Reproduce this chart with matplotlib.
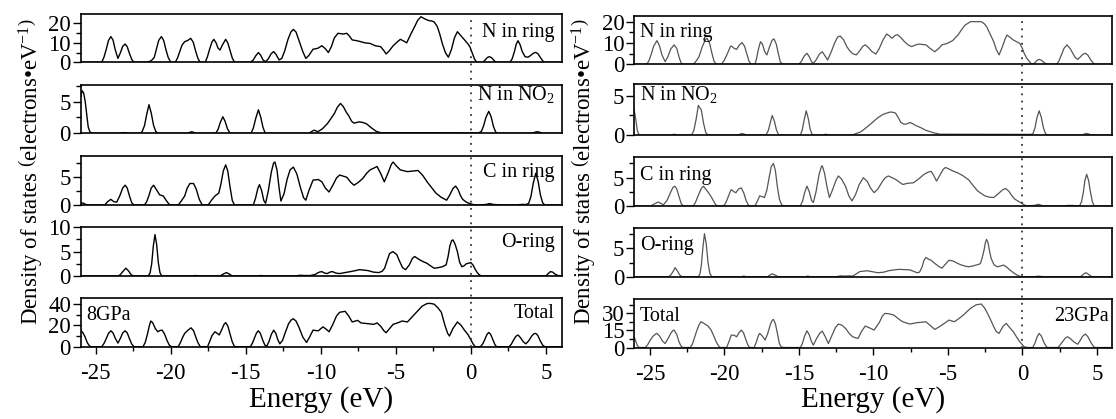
import matplotlib
matplotlib.use("Agg")
import matplotlib.pyplot as plt
from matplotlib.lines import Line2D

plt.rcParams['font.family'] = ['Liberation Serif', 'DejaVu Serif']
plt.rcParams['mathtext.fontset'] = 'custom'
plt.rcParams['mathtext.rm'] = 'Liberation Serif'
plt.rcParams['mathtext.it'] = 'Liberation Serif:italic'
plt.rcParams['axes.unicode_minus'] = False

# ---------------- data: (energy eV, DOS electrons/eV) ----------------
# 8 GPa
n_ring_8 = [(-26.0, 0), (-24.6, 0), (-24.45, 2.6), (-24.3, 6.6), (-24.15, 11.2), (-23.99, 13.2), (-23.85, 11.5),
            (-23.7, 6.5), (-23.52, 2.0), (-23.35, 5.0), (-23.2, 8.2), (-23.04, 9.4), (-22.9, 8.0), (-22.75, 4.5),
            (-22.6, 1.5), (-22.45, 0), (-21.6, 0), (-21.3, 0.8), (-21.1, 2.5), (-20.95, 6.8), (-20.8, 11.3),
            (-20.62, 13.2), (-20.47, 11.2), (-20.32, 6.5), (-20.17, 2.5), (-20.0, 0), (-19.7, 0), (-19.55, 2.2),
            (-19.4, 5.5), (-19.25, 8.8), (-19.07, 10.6), (-18.87, 11.2), (-18.67, 12.3), (-18.5, 10.3), (-18.35, 6.0),
            (-18.2, 2.2), (-18.05, 0), (-17.7, 0), (-17.55, 3.0), (-17.4, 7.0), (-17.25, 10.5), (-17.13, 11.8),
            (-16.98, 10), (-16.85, 7.3), (-16.72, 6.3), (-16.55, 9.0), (-16.34, 11.8), (-16.2, 10.0), (-16.05, 6.0),
            (-15.9, 2.2), (-15.75, 0), (-14.7, 0), (-14.5, 1.2), (-14.35, 3.2), (-14.16, 5.0), (-14.0, 3.5),
            (-13.85, 1.2), (-13.68, 0.3), (-13.5, 1.8), (-13.3, 4.5), (-13.14, 5.5), (-12.98, 4.0), (-12.78, 1.2),
            (-12.6, 2.0), (-12.4, 6.0), (-12.2, 11.5), (-12.0, 15.5), (-11.83, 16.9), (-11.65, 15.5), (-11.45, 11),
            (-11.2, 5.5), (-11.0, 2.0), (-10.8, 3.5), (-10.52, 6.7), (-10.2, 7.2), (-9.93, 8.5), (-9.7, 7.0),
            (-9.5, 5.0), (-9.3, 8.0), (-9.1, 12.5), (-8.86, 14.9), (-8.5, 14.5), (-8.27, 14.9), (-8.1, 13.5),
            (-7.91, 11.5), (-7.55, 11.0), (-7.3, 10.5), (-7.08, 10.0), (-6.72, 9.7), (-6.37, 8.5), (-6.01, 8.0),
            (-5.8, 6.0), (-5.65, 4.3), (-5.45, 5.8), (-5.18, 8.5), (-4.9, 10.5), (-4.7, 11.8), (-4.5, 11.0),
            (-4.28, 10.0), (-4.0, 14.5), (-3.75, 18.3), (-3.55, 21.5), (-3.33, 23.4), (-3.05, 22.2), (-2.8, 21.4),
            (-2.6, 21.2), (-2.45, 20.7), (-2.25, 18.5), (-2.09, 14.9), (-1.9, 9.5), (-1.7, 5.0), (-1.5, 2.6),
            (-1.3, 6.5), (-1.1, 12.5), (-0.9, 15.7), (-0.65, 13.5), (-0.43, 11.5), (-0.2, 9.5), (-0.07, 8.0),
            (0.1, 4.5), (0.25, 1.5), (0.4, 0), (0.8, 0), (0.95, 1.2), (1.1, 2.5), (1.24, 2.9), (1.4, 2.2),
            (1.55, 0.8), (1.71, 0), (2.6, 0), (2.75, 1.8), (2.9, 5.5), (3.02, 9.3), (3.14, 11.1), (3.28, 9.0),
            (3.42, 5.5), (3.61, 2.9), (3.8, 2.6), (4.0, 3.6), (4.15, 4.6), (4.32, 5.1), (4.48, 4.3), (4.65, 2.2),
            (4.8, 0.6), (4.92, 0), (6.1, 0)]

n_no2_8 = [(-26.0, 5.8), (-25.9, 6.7), (-25.8, 6.3), (-25.7, 5.0), (-25.6, 3.0), (-25.5, 1.0), (-25.38, 0.2),
           (-25.25, 0), (-23.4, 0), (-23.1, 0.1), (-22.8, 0), (-22.0, 0), (-21.9, 0.3), (-21.75, 1.2), (-21.6, 3.0),
           (-21.45, 4.5), (-21.3, 3.2), (-21.15, 1.3), (-21.0, 0.3), (-20.85, 0), (-18.9, 0), (-18.6, 0.25),
           (-18.3, 0), (-17.0, 0), (-16.85, 0.6), (-16.7, 1.7), (-16.53, 2.6), (-16.38, 1.9), (-16.22, 0.7),
           (-16.05, 0), (-14.65, 0), (-14.5, 0.8), (-14.33, 2.4), (-14.16, 3.7), (-14.0, 2.5), (-13.85, 0.9),
           (-13.7, 0), (-10.8, 0), (-10.45, 0.5), (-10.2, 0.25), (-9.9, 0.7), (-9.57, 1.5), (-9.3, 2.4),
           (-9.1, 3.1), (-8.9, 4.1), (-8.69, 4.7), (-8.5, 4.2), (-8.3, 3.3), (-8.15, 2.8), (-7.95, 1.9),
           (-7.79, 1.6), (-7.43, 1.8), (-7.2, 1.7), (-6.96, 1.5), (-6.6, 0.8), (-6.3, 0.3), (-6.0, 0.08),
           (0.5, 0.05), (0.7, 0.3), (0.85, 1.2), (1.0, 2.5), (1.19, 3.45), (1.35, 2.6), (1.5, 1.1), (1.65, 0.2),
           (1.8, 0), (4.1, 0), (4.3, 0.2), (4.44, 0.25), (4.6, 0.15), (4.8, 0), (6.1, 0)]

c_ring_8 = [(-26.0, 0.4), (-25.8, 0.3), (-25.6, 0), (-24.4, 0), (-24.2, 0.6), (-23.99, 1.0), (-23.8, 0.6),
            (-23.6, 0.5), (-23.4, 1.6), (-23.2, 3.0), (-23.04, 3.5), (-22.9, 3.0), (-22.75, 1.6), (-22.6, 0.4),
            (-22.45, 0), (-21.75, 0), (-21.6, 0.6), (-21.45, 1.7), (-21.3, 3.0), (-21.14, 3.5), (-20.95, 2.7),
            (-20.74, 1.8), (-20.5, 1.6), (-20.3, 0.8), (-20.1, 0.1), (-20.0, 0), (-19.5, 0), (-19.3, 0.7),
            (-19.07, 1.6), (-18.9, 3.0), (-18.72, 3.8), (-18.48, 3.8), (-18.3, 2.8), (-18.1, 1.0), (-17.9, 0),
            (-17.5, 0), (-17.3, 0.8), (-17.05, 1.6), (-16.8, 2.1), (-16.65, 3.8), (-16.5, 6.0), (-16.34, 7.1),
            (-16.2, 6.0), (-16.05, 3.2), (-15.9, 0.8), (-15.75, 0), (-14.5, 0), (-14.35, 1.2), (-14.2, 2.9),
            (-14.09, 3.6), (-13.95, 2.6), (-13.8, 0.8), (-13.68, 0.3), (-13.5, 2.5), (-13.3, 5.8), (-13.15, 7.4),
            (-13.06, 7.6), (-12.92, 6.2), (-12.78, 3.0), (-12.66, 0.7), (-12.45, 2.0), (-12.25, 4.5), (-12.05, 6.2),
            (-11.83, 6.7), (-11.6, 5.5), (-11.35, 3.0), (-11.15, 1.3), (-11.0, 0.85), (-10.8, 2.5), (-10.52, 4.4),
            (-10.17, 4.5), (-9.93, 4.1), (-9.7, 3.0), (-9.45, 2.3), (-9.2, 3.5), (-8.95, 4.8), (-8.74, 5.3),
            (-8.5, 5.1), (-8.27, 4.9), (-8.0, 4.0), (-7.79, 3.5), (-7.5, 4.0), (-7.2, 4.7), (-6.95, 5.6),
            (-6.72, 6.2), (-6.48, 6.5), (-6.25, 6.8), (-6.0, 5.5), (-5.77, 4.1), (-5.5, 5.8), (-5.3, 7.2),
            (-5.18, 7.6), (-5.0, 7.0), (-4.7, 6.2), (-4.23, 5.9), (-3.9, 6.0), (-3.52, 6.1), (-3.2, 5.2),
            (-2.92, 4.1), (-2.6, 3.0), (-2.33, 2.1), (-2.0, 1.4), (-1.62, 0.85), (-1.4, 1.8), (-1.2, 2.9),
            (-1.02, 3.35), (-0.85, 2.7), (-0.7, 1.7), (-0.55, 1.0), (-0.3, 0.5), (-0.07, 0.25), (0.2, 0.05),
            (0.52, 0), (1.0, 0.1), (1.24, 0.25), (1.5, 0.1), (1.95, 0), (3.0, 0), (3.37, 0.1), (3.7, 0.1),
            (3.85, 0.3), (4.0, 1.5), (4.15, 3.8), (4.32, 5.6), (4.48, 4.2), (4.63, 1.8), (4.78, 0.4), (4.92, 0),
            (6.1, 0)]

o_ring_8 = [(-26.0, 0), (-23.5, 0), (-23.35, 0.3), (-23.2, 0.9), (-22.99, 1.6), (-22.8, 1.0), (-22.65, 0.3),
            (-22.5, 0), (-21.5, 0), (-21.38, 0.6), (-21.27, 2.5), (-21.16, 6.2), (-21.05, 8.5), (-20.94, 6.5),
            (-20.83, 2.8), (-20.72, 0.7), (-20.6, 0), (-18.6, 0), (-18.36, 0.1), (-18.1, 0), (-16.7, 0),
            (-16.5, 0.4), (-16.29, 0.7), (-16.1, 0.4), (-15.9, 0), (-14.2, 0), (-14.0, 0.1), (-13.8, 0),
            (-11.7, 0), (-11.4, 0.15), (-11.1, 0.1), (-10.7, 0.1), (-10.4, 0.3), (-10.1, 0.8), (-9.93, 0.9),
            (-9.75, 0.6), (-9.57, 0.5), (-9.4, 0.8), (-9.22, 0.9), (-9.0, 0.6), (-8.74, 0.5), (-8.4, 0.7),
            (-8.03, 0.9), (-7.7, 1.1), (-7.43, 1.3), (-7.1, 1.2), (-6.84, 1.1), (-6.5, 0.8), (-6.13, 0.7),
            (-5.9, 1.0), (-5.75, 1.6), (-5.6, 3.0), (-5.42, 4.6), (-5.2, 5.0), (-4.94, 4.4), (-4.75, 3.0),
            (-4.55, 1.7), (-4.35, 1.3), (-4.1, 2.3), (-3.9, 3.6), (-3.75, 4.0), (-3.55, 3.6), (-3.4, 3.3),
            (-3.15, 2.9), (-2.92, 2.6), (-2.7, 2.1), (-2.45, 1.6), (-2.2, 1.7), (-1.9, 1.9), (-1.65, 2.3),
            (-1.52, 4.0), (-1.4, 6.2), (-1.28, 7.3), (-1.19, 7.4), (-1.05, 6.5), (-0.9, 5.0), (-0.75, 2.8),
            (-0.6, 1.9), (-0.45, 2.1), (-0.31, 2.5), (0.0, 2.75), (0.15, 2.2), (0.3, 1.3), (0.45, 0.6),
            (0.6, 0.15), (0.76, 0), (5.0, 0), (5.15, 0.5), (5.3, 0.9), (5.45, 0.8), (5.6, 0.4), (5.8, 0.1),
            (6.1, 0)]

total_8 = [(-26.0, 15.5), (-25.85, 13), (-25.72, 9.5), (-25.55, 3.5), (-25.4, 0.5), (-25.3, 0), (-24.6, 0),
           (-24.45, 3), (-24.3, 7.5), (-24.15, 12.5), (-23.99, 14.9), (-23.85, 13), (-23.7, 8), (-23.52, 3.4),
           (-23.35, 8), (-23.2, 13), (-23.04, 14.9), (-22.9, 13), (-22.75, 7.5), (-22.6, 2.5), (-22.45, 0),
           (-21.85, 0), (-21.7, 4), (-21.55, 12), (-21.42, 20), (-21.33, 24.1), (-21.2, 22.5), (-21.03, 17),
           (-20.86, 14), (-20.7, 15.3), (-20.57, 15.5), (-20.42, 12), (-20.25, 6), (-20.1, 1.5), (-19.95, 0),
           (-19.5, 0), (-19.35, 4), (-19.2, 9), (-19.07, 12.5), (-18.85, 15.5), (-18.65, 17.7), (-18.48, 15),
           (-18.33, 9), (-18.18, 3.5), (-18.03, 0), (-17.55, 0), (-17.4, 5), (-17.25, 10.5), (-17.05, 14),
           (-16.9, 12.5), (-16.77, 11), (-16.6, 16), (-16.45, 21), (-16.34, 22.6), (-16.2, 19.5), (-16.05, 12),
           (-15.9, 4.5), (-15.75, 0), (-14.7, 0), (-14.55, 3.5), (-14.4, 9), (-14.28, 13), (-14.16, 14.9),
           (-14.03, 12.5), (-13.88, 6.5), (-13.73, 1.5), (-13.6, 0.5), (-13.45, 5), (-13.3, 11.5), (-13.14, 15.5),
           (-13.0, 12.5), (-12.85, 6), (-12.73, 2.7), (-12.55, 6), (-12.35, 14), (-12.15, 21.5), (-11.98, 25),
           (-11.83, 26.2), (-11.65, 24), (-11.45, 18), (-11.2, 9), (-10.95, 4), (-10.75, 9), (-10.52, 15.5),
           (-10.17, 14.9), (-9.86, 18.6), (-9.65, 16.5), (-9.45, 14), (-9.2, 21), (-8.95, 29), (-8.74, 32.3),
           (-8.38, 33.2), (-8.15, 29), (-7.91, 23.2), (-7.55, 24.7), (-7.32, 22.3), (-6.84, 21.6), (-6.48, 21),
           (-6.25, 22.3), (-6.0, 19), (-5.8, 15), (-5.65, 13.1), (-5.45, 16.5), (-5.18, 21), (-4.85, 22.5),
           (-4.58, 24.1), (-4.23, 23.2), (-3.95, 27.5), (-3.63, 32.3), (-3.25, 38), (-2.92, 40.5), (-2.7, 40.6),
           (-2.45, 39.9), (-2.2, 36.5), (-1.97, 32.3), (-1.85, 26), (-1.73, 20), (-1.55, 12.5), (-1.43, 10),
           (-1.2, 17), (-0.9, 23.2), (-0.65, 20), (-0.43, 15.5), (-0.2, 11.5), (0.0, 6.4), (0.15, 2.5), (0.29, 0),
           (0.64, 0), (0.8, 3), (0.95, 7.5), (1.07, 11.5), (1.19, 13.4), (1.32, 11.5), (1.47, 6.5), (1.6, 2),
           (1.71, 0), (2.55, 0), (2.7, 2.5), (2.85, 6.5), (3.0, 9.8), (3.14, 11), (3.3, 8.5), (3.5, 4.5),
           (3.66, 2.7), (3.85, 5.5), (4.05, 10), (4.2, 12.2), (4.32, 12.5), (4.46, 10.5), (4.62, 5.5), (4.78, 1.5),
           (4.92, 0), (6.1, 0)]

# 23 GPa
n_ring_23 = [(-26.07, 0), (-25.2, 0), (-25.05, 2), (-24.9, 5), (-24.75, 8.5), (-24.53, 11.1), (-24.35, 8.5),
             (-24.2, 4.5), (-23.98, 1.25), (-23.8, 3.5), (-23.6, 7.2), (-23.38, 9.1), (-23.2, 7.5), (-23.05, 3.5),
             (-22.9, 0.5), (-22.8, 0), (-22.1, 0), (-21.9, 1.5), (-21.7, 3.6), (-21.5, 8), (-21.3, 11.3),
             (-21.17, 12.2), (-21.0, 10), (-20.85, 5.5), (-20.7, 1.5), (-20.55, 0), (-20.2, 0), (-20.0, 2),
             (-19.8, 5), (-19.6, 8.3), (-19.54, 8.6), (-19.35, 7.5), (-19.18, 7), (-19.0, 9), (-18.82, 10.2),
             (-18.65, 8.5), (-18.5, 5), (-18.35, 1.5), (-18.2, 0), (-17.95, 0), (-17.85, 2.5), (-17.72, 7),
             (-17.58, 10.6), (-17.45, 9.5), (-17.3, 6), (-17.15, 4.4), (-16.98, 8), (-16.8, 11.3), (-16.67, 11.9),
             (-16.52, 9.5), (-16.38, 5), (-16.25, 1.2), (-16.1, 0), (-15.0, 0), (-14.85, 1.2), (-14.65, 3.8),
             (-14.46, 5.2), (-14.3, 3.5), (-14.15, 1.2), (-14.03, 0.5), (-13.85, 2), (-13.62, 4.8), (-13.43, 5.9),
             (-13.25, 4), (-13.07, 2.0), (-12.85, 5.5), (-12.6, 10), (-12.4, 12.8), (-12.23, 13.3), (-12.0, 11.5),
             (-11.8, 8.5), (-11.63, 6.7), (-11.4, 5), (-11.15, 4.4), (-10.9, 6.5), (-10.7, 8.5), (-10.55, 9.1),
             (-10.35, 8), (-10.1, 6), (-9.83, 4.8), (-9.6, 7.5), (-9.35, 11.5), (-9.11, 14.2), (-8.95, 13.5),
             (-8.75, 12.2), (-8.55, 13.5), (-8.39, 13.9), (-8.15, 12.5), (-7.91, 10.6), (-7.65, 9), (-7.43, 8.3),
             (-7.2, 9), (-6.95, 9.5), (-6.7, 9.3), (-6.47, 9.1), (-6.2, 7.5), (-5.88, 5.9), (-5.6, 7.5),
             (-5.4, 9.1), (-5.04, 9.8), (-4.68, 11.1), (-4.32, 13.75), (-4.05, 16.5), (-3.84, 18.4), (-3.48, 20),
             (-3.1, 20), (-2.76, 20), (-2.55, 19), (-2.4, 17.7), (-2.15, 14), (-1.92, 10.6), (-1.75, 7),
             (-1.56, 4.4), (-1.35, 8), (-1.15, 12), (-1.03, 13.75), (-0.8, 12.5), (-0.6, 11.4), (-0.35, 10.5),
             (-0.17, 9.8), (0.0, 7.5), (0.12, 5.2), (0.3, 2.8), (0.48, 1.25), (0.6, 0.3), (0.72, 0), (0.85, 0.8),
             (1.0, 1.9), (1.13, 2.3), (1.3, 1.8), (1.5, 0.6), (1.68, 0), (2.3, 0), (2.45, 1.5), (2.6, 4),
             (2.8, 7.5), (3.0, 9.1), (3.2, 7.5), (3.4, 5), (3.55, 3.2), (3.72, 2.3), (3.9, 3.5), (4.05, 4.6),
             (4.24, 5.2), (4.4, 4.3), (4.6, 2.0), (4.8, 0.3), (4.9, 0), (6.0, 0)]

n_no2_23 = [(-26.07, 3.3), (-25.95, 2.0), (-25.85, 0.6), (-25.73, 0), (-23.6, 0), (-23.38, 0.1), (-23.1, 0),
            (-22.2, 0), (-22.05, 0.6), (-21.9, 2.0), (-21.75, 3.8), (-21.55, 3.2), (-21.4, 1.5), (-21.25, 0.3),
            (-21.1, 0), (-19.1, 0), (-18.82, 0.2), (-18.5, 0), (-17.2, 0), (-17.05, 0.6), (-16.92, 1.6),
            (-16.79, 2.5), (-16.65, 1.8), (-16.5, 0.6), (-16.35, 0), (-14.9, 0), (-14.78, 0.6), (-14.65, 1.9),
            (-14.51, 3.1), (-14.38, 2.2), (-14.25, 0.8), (-14.1, 0), (-13.4, 0), (-13.2, 0.1), (-13.0, 0),
            (-11.4, 0), (-11.15, 0.2), (-10.9, 0.35), (-10.67, 0.65), (-10.45, 1.0), (-10.19, 1.4), (-9.95, 1.8),
            (-9.71, 2.2), (-9.35, 2.65), (-8.87, 2.95), (-8.65, 2.9), (-8.51, 2.8), (-8.35, 2.3), (-8.15, 1.6),
            (-7.95, 1.4), (-7.79, 1.4), (-7.55, 1.6), (-7.35, 1.45), (-7.19, 1.25), (-6.83, 0.95), (-6.47, 0.6),
            (-5.99, 0.3), (-5.52, 0.1), (0.6, 0.08), (0.72, 0.2), (0.85, 0.9), (0.98, 2.2), (1.13, 3.1),
            (1.27, 2.3), (1.42, 0.9), (1.55, 0.2), (1.68, 0), (4.0, 0), (4.2, 0.15), (4.32, 0.2), (4.5, 0.1),
            (4.65, 0), (6.0, 0)]

c_ring_23 = [(-26.07, 0), (-24.95, 0), (-24.75, 0.3), (-24.46, 0.7), (-24.25, 0.45), (-24.1, 0.2), (-23.85, 1.0),
             (-23.6, 2.5), (-23.45, 3.3), (-23.33, 3.5), (-23.2, 3.0), (-23.05, 1.7), (-22.9, 0.4), (-22.75, 0),
             (-22.1, 0), (-21.95, 0.6), (-21.75, 1.9), (-21.55, 3.1), (-21.41, 3.5), (-21.2, 2.8), (-21.0, 2.1),
             (-20.86, 1.5), (-20.65, 0.5), (-20.5, 0), (-20.05, 0), (-19.9, 0.6), (-19.75, 1.6), (-19.6, 2.6),
             (-19.54, 2.9), (-19.35, 2.5), (-19.23, 2.35), (-19.05, 3.0), (-18.87, 3.2), (-18.7, 2.3),
             (-18.55, 1.0), (-18.4, 0.2), (-18.3, 0), (-17.95, 0), (-17.8, 0.8), (-17.63, 1.8), (-17.31, 1.5),
             (-17.15, 2.8), (-17.0, 5.0), (-16.85, 7.0), (-16.71, 7.5), (-16.58, 6.3), (-16.45, 3.5),
             (-16.31, 1.2), (-16.15, 0.2), (-16.05, 0), (-14.9, 0), (-14.75, 0.9), (-14.6, 2.5), (-14.46, 3.5),
             (-14.3, 2.5), (-14.15, 1.0), (-14.03, 0.6), (-13.85, 2.5), (-13.65, 5.5), (-13.5, 6.9), (-13.43, 7.1),
             (-13.28, 5.8), (-13.1, 3.2), (-12.95, 1.5), (-12.75, 2.8), (-12.5, 4.6), (-12.35, 5.3), (-12.15, 4.8),
             (-11.87, 3.5), (-11.65, 1.8), (-11.44, 0.9), (-11.2, 2.0), (-10.95, 3.8), (-10.67, 5.0), (-10.4, 4.3),
             (-10.2, 3.2), (-9.95, 2.35), (-9.7, 3.0), (-9.4, 4.3), (-9.2, 5.0), (-8.99, 5.3), (-8.75, 5.0),
             (-8.51, 4.7), (-8.03, 3.8), (-7.7, 4.0), (-7.31, 4.1), (-6.95, 4.8), (-6.59, 5.6), (-6.3, 6.0),
             (-6.12, 6.1), (-5.95, 5.4), (-5.76, 4.4), (-5.5, 5.6), (-5.3, 6.5), (-5.16, 6.8), (-4.9, 6.5),
             (-4.68, 6.2), (-4.3, 5.8), (-3.96, 5.3), (-3.6, 4.6), (-3.36, 3.8), (-3.0, 2.65), (-2.52, 1.8),
             (-2.2, 1.55), (-1.92, 1.5), (-1.6, 2.2), (-1.35, 2.8), (-1.13, 3.1), (-0.9, 2.6), (-0.7, 1.8),
             (-0.5, 1.2), (-0.25, 0.8), (0.0, 0.4), (0.2, 0.1), (0.36, 0), (0.8, 0.1), (1.08, 0.3), (1.3, 0.1),
             (1.5, 0), (2.8, 0), (3.0, 0.1), (3.4, 0.1), (3.84, 0), (3.98, 0.8), (4.1, 2.5), (4.2, 4.5),
             (4.32, 5.6), (4.45, 4.5), (4.57, 2.5), (4.7, 0.8), (4.82, 0), (6.0, 0)]

o_ring_23 = [(-26.07, 0), (-23.75, 0), (-23.6, 0.3), (-23.45, 0.9), (-23.31, 1.6), (-23.15, 1.0), (-23.0, 0.3),
             (-22.85, 0), (-21.75, 0), (-21.64, 0.5), (-21.55, 2.0), (-21.45, 5.0), (-21.34, 7.6), (-21.22, 5.8),
             (-21.1, 2.5), (-20.98, 0.6), (-20.85, 0), (-18.9, 0), (-18.7, 0.1), (-18.5, 0), (-17.1, 0),
             (-16.95, 0.3), (-16.79, 0.5), (-16.6, 0.3), (-16.4, 0), (-14.6, 0), (-14.4, 0.1), (-14.2, 0),
             (-12.5, 0), (-12.2, 0.15), (-11.9, 0.1), (-11.6, 0.15), (-11.39, 0.1), (-11.15, 0.5), (-10.91, 0.9),
             (-10.43, 1.05), (-10.1, 0.9), (-9.71, 0.7), (-9.3, 0.8), (-8.99, 1.05), (-8.6, 1.2), (-8.27, 1.3),
             (-7.9, 1.25), (-7.55, 1.2), (-7.3, 0.95), (-7.07, 0.7), (-6.9, 0.8), (-6.72, 1.8), (-6.6, 2.9),
             (-6.47, 3.4), (-6.3, 3.1), (-6.12, 2.9), (-5.88, 2.35), (-5.6, 1.8), (-5.4, 1.5), (-5.2, 2.1),
             (-5.0, 2.7), (-4.92, 2.9), (-4.7, 2.8), (-4.56, 2.65), (-4.3, 2.3), (-4.08, 2.05), (-3.8, 1.85),
             (-3.6, 1.75), (-3.3, 1.9), (-3.12, 2.05), (-2.9, 2.2), (-2.81, 2.35), (-2.7, 3.3), (-2.57, 4.7),
             (-2.48, 6.0), (-2.4, 6.6), (-2.3, 6.0), (-2.2, 4.5), (-2.09, 3.2), (-1.9, 2.1), (-1.68, 1.75),
             (-1.45, 1.9), (-1.27, 2.05), (-1.05, 1.7), (-0.84, 1.2), (-0.6, 0.7), (-0.36, 0.3), (-0.15, 0.05),
             (0.0, 0), (0.8, 0), (1.08, 0.1), (1.4, 0), (3.9, 0), (4.05, 0.3), (4.15, 0.55), (4.27, 0.7),
             (4.4, 0.5), (4.55, 0.2), (4.68, 0), (6.0, 0)]

total_23 = [(-26.07, 9.4), (-25.95, 5.5), (-25.85, 1.8), (-25.73, 0), (-25.3, 0), (-25.15, 2.5), (-25.0, 6),
            (-24.8, 9.8), (-24.6, 12), (-24.53, 12.4), (-24.35, 10), (-24.15, 5.5), (-23.98, 3.5), (-23.8, 7.5),
            (-23.6, 12.5), (-23.45, 15), (-23.38, 15.3), (-23.2, 11.5), (-23.05, 5), (-22.9, 1), (-22.8, 0),
            (-22.3, 0), (-22.15, 3), (-22.0, 9), (-21.85, 15), (-21.7, 20), (-21.58, 22.6), (-21.35, 21),
            (-21.1, 18.8), (-20.9, 15.5), (-20.74, 10.9), (-20.55, 5), (-20.4, 1.5), (-20.3, 0), (-19.85, 0),
            (-19.7, 5), (-19.54, 10.9), (-19.35, 10.8), (-19.18, 9.4), (-19.02, 13), (-18.87, 15.3), (-18.72, 13),
            (-18.55, 6.5), (-18.4, 1.5), (-18.3, 0), (-18.0, 0), (-17.85, 5), (-17.72, 10.5), (-17.63, 12.4),
            (-17.45, 10), (-17.27, 6.5), (-17.1, 12), (-16.92, 20), (-16.8, 23.7), (-16.71, 24.7), (-16.58, 21),
            (-16.45, 13), (-16.31, 3.5), (-16.2, 0.8), (-16.07, 0), (-14.9, 0), (-14.78, 3), (-14.62, 10),
            (-14.46, 14.7), (-14.3, 11), (-14.15, 5), (-14.03, 2.1), (-13.85, 7), (-13.6, 12.5), (-13.43, 14.4),
            (-13.25, 10), (-13.02, 3.5), (-12.8, 10), (-12.55, 17.5), (-12.35, 20.6), (-12.1, 19.5),
            (-11.87, 16.8), (-11.6, 12), (-11.39, 9.4), (-11.03, 7.9), (-10.8, 14), (-10.55, 18.8), (-10.3, 17.5),
            (-9.95, 15.3), (-9.6, 22), (-9.4, 27.5), (-9.23, 30), (-8.9, 29.5), (-8.63, 28.5), (-8.3, 25),
            (-8.03, 22.6), (-7.55, 20.6), (-7.07, 21.8), (-6.47, 22.6), (-6.15, 19), (-5.88, 15.9), (-5.6, 18),
            (-5.4, 19.7), (-4.92, 24.1), (-4.56, 22.6), (-4.2, 26), (-3.96, 28.5), (-3.48, 34.4), (-3.1, 37.5),
            (-2.76, 38.2), (-2.55, 35), (-2.4, 31.5), (-2.15, 25), (-1.92, 18.2), (-1.75, 14), (-1.56, 12.4),
            (-1.3, 18.5), (-1.08, 21.2), (-0.85, 17.5), (-0.6, 13.8), (-0.4, 9.5), (-0.17, 5), (0.12, 0.6),
            (0.36, 0), (0.7, 0), (0.85, 4), (1.0, 9.5), (1.13, 12.4), (1.28, 10), (1.45, 4.5), (1.6, 1), (1.68, 0),
            (2.4, 0), (2.55, 2.5), (2.75, 6), (2.9, 8.5), (3.05, 9.4), (3.25, 7.5), (3.5, 4.5), (3.72, 2.9),
            (3.9, 6.5), (4.05, 10), (4.24, 11.8), (4.4, 9.5), (4.6, 4.5), (4.8, 0.5), (4.9, 0), (6.0, 0)]

panel_labels = ["N in ring", "N in NO$_2$", "C in ring", "O-ring", "Total"]
pressure_labels = ["8GPa", "23GPa"]

ymax_8 = [24.8, 7.6, 8.66, 10.0, 45.4]
yticks_8 = [[0, 10, 20], [0, 5], [0, 5], [0, 5, 10], [0, 20, 40]]
yminor_8 = [[5, 15], [2.5, 7.5], [2.5, 7.5], [2.5, 7.5], [10, 30]]
ymax_23 = [22.8, 6.5, 8.7, 8.6, 42.6]
yticks_23 = [[0, 10, 20], [0, 5], [0, 5], [0, 5], [0, 15, 30]]
yminor_23 = [[5, 15], [2.5], [2.5, 7.5], [2.5, 7.5], [7.5, 22.5, 37.5]]
xticks = [-25, -20, -15, -10, -5, 0, 5]
xminor = [-22.5, -17.5, -12.5, -7.5, -2.5, 2.5]

# ---------------- figure ----------------
W, H = 1116, 419
fig = plt.figure(figsize=(W / 100, H / 100), dpi=100)

left_col = (80.7, 561.7, [(14, 62.3), (85, 133.3), (156, 205), (227.3, 276), (298.3, 346.7)])
right_col = (634, 1111.7, [(15.7, 64.3), (84.3, 135), (156.7, 206), (228, 276.7), (299, 347.5)])

curves_8 = [n_ring_8, n_no2_8, c_ring_8, o_ring_8, total_8]
curves_23 = [n_ring_23, n_no2_23, c_ring_23, o_ring_23, total_23]

label_base_8 = [0.52, 0.69, 0.57, 0.60, 0.59]
label_base_23 = [0.56, 0.69, 0.53, 0.55, 0.55]


def build(col, curves, xlim, ymaxs, ytk, ymn, bases, color, lw, side):
    x0, x1, boxes = col
    axes = []
    for i, (t, b) in enumerate(boxes):
        ax = fig.add_axes([x0 / W, 1 - b / H, (x1 - x0) / W, (b - t) / H])
        e = [p[0] for p in curves[i]]
        v = [p[1] for p in curves[i]]
        ax.plot(e, v, color=color, lw=lw, solid_joinstyle='round')
        ax.set_xlim(*xlim)
        ax.set_ylim(0, ymaxs[i])
        ax.set_yticks(ytk[i])
        ax.set_yticks([m for m in ymn[i] if m <= ymaxs[i]], minor=True)
        ax.tick_params(axis='y', which='major', direction='out', length=6, width=1.0,
                       labelsize=16.5, pad=1)
        ax.tick_params(axis='y', which='minor', direction='out', length=3.5, width=1.0)
        for s in ax.spines.values():
            s.set_linewidth(1.2)
        if i < len(boxes) - 1:
            ax.set_xticks([])
        else:
            ax.set_xticks(xticks)
            ax.set_xticks(xminor, minor=True)
            ax.tick_params(axis='x', which='major', direction='out', length=5, width=1.0,
                           labelsize=16.5, pad=7)
            ax.tick_params(axis='x', which='minor', direction='out', length=3, width=1.0)
            ax.set_xlabel("Energy (eV)", fontsize=21, labelpad=1)
        if side == 'right':
            ax.text(0.985, bases[i], panel_labels[i], transform=ax.transAxes, ha='right',
                    va='baseline', fontsize=14.5)
        else:
            ax.text(0.012, bases[i], panel_labels[i], transform=ax.transAxes, ha='left',
                    va='baseline', fontsize=14.5)
        axes.append(ax)
    return axes


axes8 = build(left_col, curves_8, (-26.0, 6.05), ymax_8, yticks_8, yminor_8,
              label_base_8, 'black', 1.0, 'right')
axes23 = build(right_col, curves_23, (-26.07, 6.0), ymax_23, yticks_23, yminor_23,
               label_base_23, '#555555', 0.9, 'left')

axes8[-1].text(0.012, 0.55, pressure_labels[0], transform=axes8[-1].transAxes,
               ha='left', va='baseline', fontsize=14.5)
axes23[-1].text(0.993, 0.55, pressure_labels[1], transform=axes23[-1].transAxes,
                ha='right', va='baseline', fontsize=14.5)

# Fermi level dotted line through all panels
fig.canvas.draw()
inv = fig.transFigure.inverted()
for axes in (axes8, axes23):
    xf = inv.transform(axes[-1].transData.transform((0, 0)))[0]
    ytop = inv.transform(axes[0].transAxes.transform((0, 1)))[1]
    ybot = inv.transform(axes[-1].transAxes.transform((0, 0)))[1]
    fig.add_artist(Line2D([xf, xf], [ybot, ytop], transform=fig.transFigure,
                          color='#333333', lw=1.3, linestyle=(0, (1, 3))))

ylab = "Density of states " + r"$\left(\mathrm{electrons{\u2022}eV}^{-1}\right)$"
ylab = ylab.replace(r"{\u2022}", "\u2022")
fig.text(30 / W, 1 - 172 / H, ylab, rotation=90, ha='center', va='center', fontsize=16.5)
fig.text(583 / W, 1 - 172 / H, ylab, rotation=90, ha='center', va='center', fontsize=16.5)

fig.savefig("out.png", dpi=100)
